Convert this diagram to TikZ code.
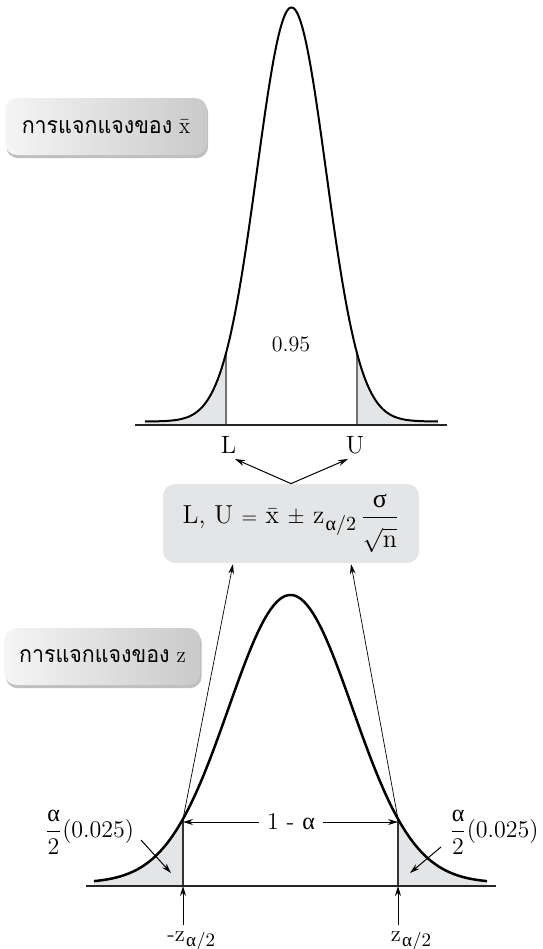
\documentclass[tikz,border=0pt]{standalone}
\usepackage{fontspec}
\usepackage{graphicx}
\newfontfamily\thaifont[Script=Thai]{Loma}
\newfontfamily\grk{Liberation Serif}
\usetikzlibrary{arrows.meta,shadows}
\definecolor{tailgray}{HTML}{E4E5E6}
\definecolor{boxgray}{HTML}{E4E5E6}
\newcommand{\asubs}[1]{\kern0.6pt\raisebox{-0.6ex}{\fontsize{#1}{#1}\selectfont{\grk α}/2}}
\begin{document}
\begin{tikzpicture}[x=0.5pt,y=-0.5pt,
  declare function={
    ftop(\t)=421.5-414*exp(-0.5*((\t-291.5)/34.5)*((\t-291.5)/34.5));
    fbot(\t)=883-288*exp(-0.5*((\t-290.5)/62)*((\t-290.5)/62));},
  curve/.style={line width=1pt, line join=round},
  curvebot/.style={line width=1.25pt, line join=round},
  axisline/.style={line width=0.9pt, draw=black!85},
  tail/.style={fill=tailgray},
  vline/.style={line width=0.7pt, draw=black!55},
  vlinebot/.style={line width=0.6pt, draw=black!80},
  arrowline/.style={line width=0.5pt, -{Stealth[length=5pt,width=3pt]}},
  thinarrow/.style={line width=0.35pt, -{Stealth[length=5pt,width=2.8pt]}},
  lbox/.style={rounded corners=6pt, minimum width=101pt, minimum height=28.5pt,
    left color=black!4, right color=black!21, inner sep=0pt,
    drop shadow={shadow xshift=0.6pt, shadow yshift=-1.6pt, opacity=0.25, fill=black}},
  fboxstyle/.style={rounded corners=6pt, minimum width=128pt, minimum height=39.5pt,
    fill=boxgray, inner sep=0pt},
  txt/.style={inner sep=0pt, font=\fontsize{11}{12}\selectfont},
  big/.style={inner sep=0pt, font=\fontsize{12.5}{14}\selectfont},
]
\useasboundingbox (0,0) rectangle (542,949);

% ---------- top distribution ----------
\fill[tail] plot[domain=145:226, samples=60] (\x,{ftop(\x)}) -- (226,424.5) -- (145,424.5) -- cycle;
\fill[tail] plot[domain=357:438, samples=60] (\x,{ftop(\x)}) -- (438,424.5) -- (357,424.5) -- cycle;
\coordinate (Ltop) at (226,{ftop(226)});
\coordinate (Lbot) at (226,424.5);
\coordinate (Utop) at (357,{ftop(357)});
\coordinate (Ubot) at (357,424.5);
\draw[vline] (Lbot) -- (Ltop);
\draw[vline] (Ubot) -- (Utop);
\draw[curve] plot[domain=145:438, samples=200, smooth] (\x,{ftop(\x)});
\coordinate (A1l) at (135,425);
\coordinate (A1r) at (447,425);
\draw[axisline] (A1l) -- (A1r);
\node[txt] (p95) at (291,344) {0.95};
\node[big] (Llab) at (228.5,445) {L};
\node[big] (Ulab) at (355,445) {U};

% label box x-bar
\node[lbox] (lab1) at (106,126.5) {\scalebox{0.93}[1]{\fontsize{11.5}{14}\selectfont{\thaifont การแจกแจงของ}\ $\bar{\mathrm{x}}$}};

% ---------- formula box ----------
\node[fboxstyle] (fbox) at (291,523.5)
  {\fontsize{13}{15}\selectfont L, U\ {\fontsize{10}{12}\selectfont =}\ $\bar{\mathrm{x}}$\ {\fontsize{11}{12}\selectfont$\pm$}\ z\asubs{10}\,$\displaystyle\frac{\mbox{\grk σ}}{\rule{0pt}{2.4ex}\sqrt{\mathrm{n}}}$};
\coordinate (Ltip) at (235,459);
\coordinate (Utip) at (348,459);
\draw[arrowline] (fbox.north) -- (Ltip);
\draw[arrowline] (fbox.north) -- (Utip);

% ---------- bottom distribution ----------
\fill[tail] plot[domain=94:183, samples=60] (\x,{fbot(\x)}) -- (183,885.5) -- (94,885.5) -- cycle;
\fill[tail] plot[domain=398:487, samples=60] (\x,{fbot(\x)}) -- (487,885.5) -- (398,885.5) -- cycle;
\coordinate (BLtop) at (183,{fbot(183)});
\coordinate (BLbot) at (183,886);
\coordinate (BRtop) at (398,{fbot(398)});
\coordinate (BRbot) at (398,886);
\draw[vlinebot] (BLbot) -- (BLtop);
\draw[vlinebot] (BRbot) -- (BRtop);
\draw[curvebot] plot[domain=94:487, samples=200, smooth] (\x,{fbot(\x)});
\coordinate (A2l) at (86,886);
\coordinate (A2r) at (496,886);
\draw[axisline] (A2l) -- (A2r);

% label box z
\node[lbox, minimum width=98pt] (lab2) at (102.5,656.5) {\scalebox{0.93}[1]{\fontsize{11.5}{14}\selectfont{\thaifont การแจกแจงของ}\ z}};

% thin arrows to formula box
\coordinate (fL) at (233,564);
\coordinate (fR) at (351,564);
\draw[thinarrow] (BLtop) -- (fL);
\draw[thinarrow] (BRtop) -- (fR);

% 1 - alpha
\node[txt, fill=white, inner xsep=4pt, font=\fontsize{12}{13}\selectfont] (onea) at (291,822) {1 - {\grk α}};
\draw[arrowline] (onea.west) -- (onea.west -| BLtop);
\draw[arrowline] (onea.east) -- (onea.east -| BRtop);

% alpha/2 labels
\node[txt, font=\fontsize{12}{13}\selectfont] (hl) at (89.5,832) {$\displaystyle\frac{\mbox{\grk α}}{2}$(0.025)};
\node[txt, font=\fontsize{12}{13}\selectfont] (hr) at (494,832) {$\displaystyle\frac{\mbox{\grk α}}{2}$(0.025)};
\coordinate (hlA) at (141,840);
\coordinate (hlT) at (171,873);
\coordinate (hrA) at (441,847);
\coordinate (hrT) at (410,873);
\draw[arrowline] (hlA) -- (hlT);
\draw[arrowline] (hrA) -- (hrT);

% z labels
\coordinate (zlA) at (183,925);
\coordinate (zrA) at (398,925);
\draw[arrowline] (zlA) -- (BLbot);
\draw[arrowline] (zrA) -- (BRbot);
\node[txt, anchor=base west, font=\fontsize{11.5}{12}\selectfont] (zl) at (167,941) {-z\asubs{9.5}};
\node[txt, anchor=base west, font=\fontsize{11.5}{12}\selectfont] (zr) at (390.5,941) {z\asubs{9.5}};
\end{tikzpicture}
\end{document}
